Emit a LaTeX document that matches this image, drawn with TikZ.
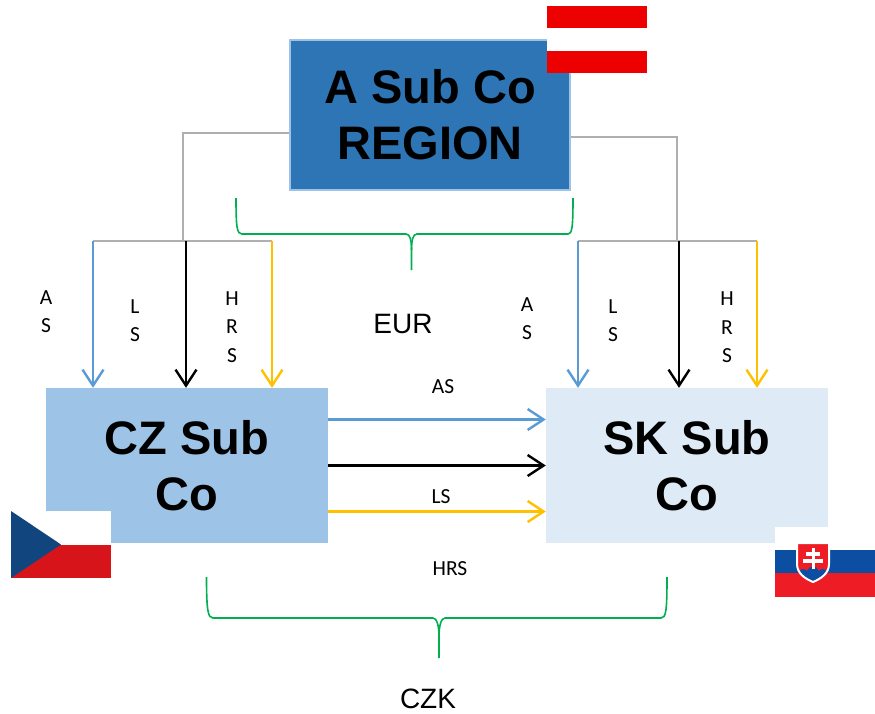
\documentclass[tikz,border=0pt]{standalone}
\usepackage{fontspec}
\setmainfont{Liberation Sans}
\newfontfamily\carlito{Carlito}
\usetikzlibrary{arrows.meta,positioning,calc}
\definecolor{regionblue}{RGB}{46,117,182}
\definecolor{edgeblue}{RGB}{157,195,230}
\definecolor{czblue}{RGB}{157,195,230}
\definecolor{skblue}{RGB}{222,235,247}
\definecolor{asblue}{RGB}{91,155,213}
\definecolor{hrsyellow}{RGB}{255,192,0}
\definecolor{bracegreen}{RGB}{0,176,80}
\definecolor{linkgray}{RGB}{175,175,175}
\definecolor{atred}{RGB}{237,0,0}
\definecolor{czred}{RGB}{215,20,26}
\definecolor{czflagblue}{RGB}{17,69,126}
\definecolor{skflagblue}{RGB}{11,78,162}
\definecolor{skred}{RGB}{238,28,37}

\begin{document}
\begin{tikzpicture}[x=1pt,y=-1pt,
	company/.style={minimum width=282pt,minimum height=155pt,inner sep=0pt,align=center,font=\fontsize{47}{56}\selectfont\bfseries},
	feed/.style={line width=2.4pt,-{Straight Barb[length=16pt,width=21pt]}},
	link/.style={line width=1.6pt,draw=linkgray},
	brace/.style={line width=1.6pt,draw=bracegreen},
	flow/.style={inner sep=0pt,align=center,font=\carlito\fontsize{21.5}{28.5}\selectfont},
	currency/.style={inner sep=0pt,font=\fontsize{28}{32}\selectfont}]
	\useasboundingbox (0,0) rectangle (875,713);
	% companies
	\node [company,fill=regionblue,draw=edgeblue,line width=2.5pt,minimum width=280pt,minimum height=150pt] (region) at (430,115) {A Sub Co\\REGION};
	\node [company,fill=czblue] (cz) at (187,465.5) {CZ Sub\\Co};
	\node [company,fill=skblue] (sk) at (687,465.5) {SK Sub\\Co};
	% flags
	\fill [atred] (547,6) rectangle (647,28);
	\fill [white] (547,28) rectangle (647,51);
	\fill [atred] (547,51) rectangle (647,73);
	\fill [white] (11,511) rectangle (111,544.5);
	\fill [czred] (11,544.5) rectangle (111,578);
	\fill [czflagblue] (11,511) -- (61,544.5) -- (11,578) -- cycle;
	\fill [white] (775,527) rectangle (875,550);
	\fill [skflagblue] (775,550) rectangle (875,573);
	\fill [skred] (775,573) rectangle (875,597);
	\fill [skred] (797,543) -- (829,543) -- (829,564) .. controls (829,574) and (820,579) .. (813,582) .. controls (806,579) and (797,574) .. (797,564) -- cycle;
	\begin{scope}
		\clip (797,543) -- (829,543) -- (829,564) .. controls (829,574) and (820,579) .. (813,582) .. controls (806,579) and (797,574) .. (797,564) -- cycle;
		\fill [skflagblue] (797,584) -- (797,574) .. controls (800,568) and (805,568) .. (807,571) .. controls (809,565) and (817,565) .. (819,571) .. controls (821,568) and (826,568) .. (829,574) -- (829,584) -- cycle;
	\end{scope}
	\draw [white,line width=2pt] (797,543) -- (829,543) -- (829,564) .. controls (829,574) and (820,579) .. (813,582) .. controls (806,579) and (797,574) .. (797,564) -- cycle;
	\fill [white] (811.5,548) rectangle (814.5,569);
	\fill [white] (806,552) rectangle (820,555.5);
	\fill [white] (803,559) rectangle (823,562.5);
	% gray links
	\coordinate (czhub) at (183,241);
	\coordinate (skhub) at (677,241);
	\coordinate (czas) at (93,241);
	\coordinate (czls) at (186,241);
	\coordinate (czhrs) at (272,241);
	\coordinate (skas) at (578,241);
	\coordinate (skls) at (679,241);
	\coordinate (skhrs) at (757,241);
	\draw [link] ([yshift=-18pt]region.west) -| (czhub);
	\draw [link] ([yshift=-22pt]region.east) -| (skhub);
	\draw [link] (czas) -- (czhrs);
	\draw [link] (skas) -- (skhrs);
	% services down
	\draw [feed,draw=asblue] (czas) -- (czas |- cz.north);
	\draw [feed] (czls) -- (czls |- cz.north);
	\draw [feed,draw=hrsyellow] (czhrs) -- (czhrs |- cz.north);
	\draw [feed,draw=asblue] (skas) -- (skas |- sk.north);
	\draw [feed] (skls) -- (skls |- sk.north);
	\draw [feed,draw=hrsyellow] (skhrs) -- (skhrs |- sk.north);
	% services across
	\draw [feed,draw=asblue] ($(cz.east)+(0,-46)$) -- ($(sk.west)+(0,-46)$);
	\draw [feed] (cz.east) -- (sk.west);
	\draw [feed,draw=hrsyellow] ($(cz.east)+(0,46)$) -- ($(sk.west)+(0,46)$);
	% labels
	\node [flow] (czaslabel) at (46,311.5) {A\\S};
	\node [flow] (czlslabel) at (135,320.5) {L\\S};
	\node [flow] (czhrslabel) at (232,327) {H\\R\\S};
	\node [flow] (skaslabel) at (527,318.5) {A\\S};
	\node [flow] (sklslabel) at (613,320.5) {L\\S};
	\node [flow] (skhrslabel) at (727,327.5) {H\\R\\S};
	\node [flow] (aslabel) at (443,387) {AS};
	\node [flow] (lslabel) at (441,497) {LS};
	\node [flow] (hrslabel) at (450,569) {HRS};
	\node [currency,anchor=base] (eur) at (403,333) {EUR};
	\node [currency,anchor=base] (czk) at (428,708) {CZK};
	% braces
	\draw [brace] (236,198) .. controls (236,228) and (237,234) .. (242,234) -- (406,234) .. controls (410,234) and (411.5,240) .. (411.5,250) -- (411.5,270);
	\draw [brace] (411.5,250) .. controls (411.5,240) and (413,234) .. (417,234) -- (568,234) .. controls (572,234) and (573,228) .. (573,198);
	\draw [brace] (206.5,577) .. controls (206.5,611) and (208,618) .. (213,618) -- (433,618) .. controls (437,618) and (439,626) .. (439,637) -- (439,658);
	\draw [brace] (439,637) .. controls (439,626) and (441,618) .. (445,618) -- (661,618) .. controls (666,618) and (667,611) .. (667,577);
\end{tikzpicture}
\end{document}
